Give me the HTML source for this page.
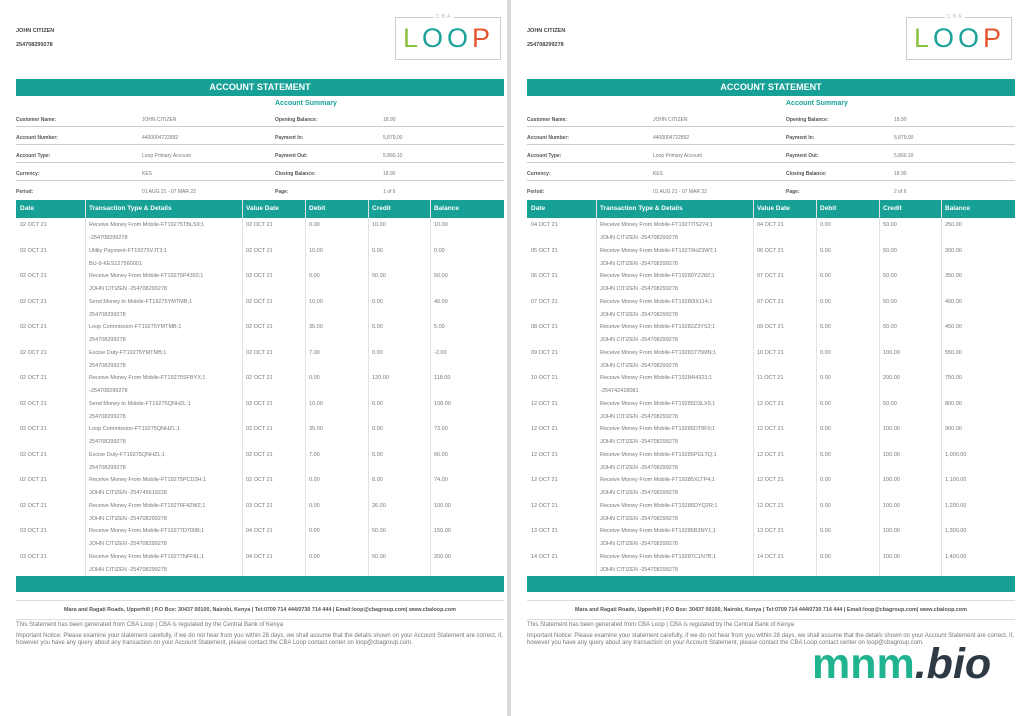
<!DOCTYPE html>
<html><head><meta charset="utf-8">
<style>
*{margin:0;padding:0;box-sizing:border-box}
body{width:1018px;height:716px;background:#fff;position:relative;overflow:hidden;font-family:"Liberation Sans",sans-serif;color:#666}
.pg{position:absolute;top:0;width:507px;height:716px;background:#fff}
.sep{position:absolute;left:507px;top:0;width:4px;height:716px;background:#d9d9d9}
.a{position:absolute;white-space:nowrap}
.t{font-size:5px;color:#777}
.r{font-size:5.5px}
.b{font-weight:bold;color:#444}
.teal{background:#16a096}
.ln{position:absolute;height:1px;background:#ccc}
.vl{position:absolute;width:1px;background:#ddd}
.logo{position:absolute;width:106px;height:43px;border:1px solid #ccc}
.mark{position:absolute;left:812px;top:640px;font-size:43px;font-weight:bold;font-style:italic;letter-spacing:0px}
</style></head><body>
<div class="sep"></div>
<div class="mark"><span style="color:#1fb38f;font-style:normal">mnm</span><span style="color:#2d3a45">.bio</span></div>
<script>
const summaryLeft=[["Customer Name:","JOHN CITIZEN"],["Account Number:","4400004722892"],["Account Type:","Loop Primary Account"],["Currency:","KES"],["Period:","01 AUG 21 - 07 MAR 22"]];
const summaryRight1=[["Opening Balance:","18.90"],["Payment In:","5,879.00"],["Payment Out:","5,860.10"],["Closing Balance:","18.90"],["Page:","1 of 6"]];
const headers=["Date","Transaction Type & Details","Value Date","Debit","Credit","Balance"];
const rows1=[
["02 OCT 21","Receive Money From Mobile-FT19275TBLS9;1","-254708299278","02 OCT 21","0.00","10.00","10.00"],
["02 OCT 21","Utility Payment-FT19275VJT3;1","BU-9-KES127560001","02 OCT 21","10.00","0.00","0.00"],
["02 OCT 21","Receive Money From Mobile-FT19275P4393;1","JOHN CITIZEN -254708299278","02 OCT 21","0.00","50.00","50.00"],
["02 OCT 21","Send Money to Mobile-FT19275YMTMB;1","254708299278","02 OCT 21","10.00","0.00","40.00"],
["02 OCT 21","Loop Commission-FT19275YMTMB;1","254708299278","02 OCT 21","35.00","0.00","5.00"],
["02 OCT 21","Excise Duty-FT19275YMTMB;1","254708299278","02 OCT 21","7.00","0.00","-2.00"],
["02 OCT 21","Receive Money From Mobile-FT19275SFBYX;1","-254708299278","02 OCT 21","0.00","120.00","118.00"],
["02 OCT 21","Send Money to Mobile-FT19275QNHZL;1","254708299278","02 OCT 21","10.00","0.00","108.00"],
["02 OCT 21","Loop Commission-FT19275QNHZL;1","254708299278","02 OCT 21","35.00","0.00","73.00"],
["02 OCT 21","Excise Duty-FT19275QNHZL;1","254708299278","02 OCT 21","7.00","0.00","66.00"],
["02 OCT 21","Receive Money From Mobile-FT19275PCD3H;1","JOHN CITIZEN -254745619228","02 OCT 21","0.00","8.00","74.00"],
["02 OCT 21","Receive Money From Mobile-FT19276F42WZ;1","JOHN CITIZEN -254708299278","03 OCT 21","0.00","26.00","100.00"],
["03 OCT 21","Receive Money From Mobile-FT19277D700B;1","JOHN CITIZEN -254708299278","04 OCT 21","0.00","50.00","150.00"],
["03 OCT 21","Receive Money From Mobile-FT19277NFF8L;1","JOHN CITIZEN -254708299278","04 OCT 21","0.00","50.00","200.00"]];
const rows2=[
["04 OCT 21","Receive Money From Mobile-FT19277IS274;1","JOHN CITIZEN -254708299278","04 OCT 21","0.00","50.00","250.00"],
["05 OCT 21","Receive Money From Mobile-FT19279HZ3WT;1","JOHN CITIZEN -254708299278","06 OCT 21","0.00","50.00","300.00"],
["06 OCT 21","Receive Money From Mobile-FT19280YZ28Z;1","JOHN CITIZEN -254708299278","07 OCT 21","0.00","50.00","350.00"],
["07 OCT 21","Receive Money From Mobile-FT19280IX114;1","JOHN CITIZEN -254708299278","07 OCT 21","0.00","50.00","400.00"],
["08 OCT 21","Receive Money From Mobile-FT19282Z3YS2;1","JOHN CITIZEN -254708299278","09 OCT 21","0.00","50.00","450.00"],
["09 OCT 21","Receive Money From Mobile-FT19283775MN;1","JOHN CITIZEN -254708299278","10 OCT 21","0.00","100.00","550.00"],
["10 OCT 21","Receive Money From Mobile-FT19284I4323;1","-254742418081","11 OCT 21","0.00","200.00","750.00"],
["12 OCT 21","Receive Money From Mobile-FT19285D3LX5;1","JOHN CITIZEN -254708299278","12 OCT 21","0.00","50.00","800.00"],
["12 OCT 21","Receive Money From Mobile-FT19285DT8F9;1","JOHN CITIZEN -254708299278","12 OCT 21","0.00","100.00","900.00"],
["12 OCT 21","Receive Money From Mobile-FT19285PGLTQ;1","JOHN CITIZEN -254708299278","12 OCT 21","0.00","100.00","1,000.00"],
["12 OCT 21","Receive Money From Mobile-FT19285XLTP4;1","JOHN CITIZEN -254708299278","12 OCT 21","0.00","100.00","1,100.00"],
["12 OCT 21","Receive Money From Mobile-FT19285DYQ2R;1","JOHN CITIZEN -254708299278","12 OCT 21","0.00","100.00","1,200.00"],
["13 OCT 21","Receive Money From Mobile-FT19286B3NY1;1","JOHN CITIZEN -254708299278","13 OCT 21","0.00","100.00","1,300.00"],
["14 OCT 21","Receive Money From Mobile-FT19287C1N7B;1","JOHN CITIZEN -254708299278","14 OCT 21","0.00","100.00","1,400.00"]];
const colX=[0,69,226,289,352,414,488];

function el(p,cls,x,y,txt,name,style){
  const d=document.createElement('div');
  d.className=cls;d.style.left=x+'px';d.style.top=y+'px';
  if(style)d.style.cssText+=style;
  if(txt!==undefined)d.textContent=txt;
  
  
  p.appendChild(d);return d;
}
function page(off,rows,pageTxt){
  const p=document.createElement('div');p.className='pg';p.style.left=off+'px';
  
  
  document.body.appendChild(p);
  const L=16;
  el(p,'a t b',L,28,'JOHN CITIZEN','customer-name-header','font-size:5.5px');
  el(p,'a t b',L,42,'254708299278','customer-phone-header','font-size:5.5px');
  const lg=el(p,'logo',395,17,undefined,'cba-loop-logo');
  el(lg,'a',38,-4,'CBA','logo-cba-text','font-size:5px;color:#bbb;background:#fff;padding:0 2px;letter-spacing:2px');
  el(lg,'a',7,5,'','logo-loop-text','font-size:27px;letter-spacing:4px;line-height:30px').innerHTML='<span style="color:#8cbf3f">L</span><span style="color:#1ba39a">OO</span><span style="color:#e4572e">P</span>';
  el(p,'a teal',L,79,'ACCOUNT STATEMENT','account-statement-title','width:488px;height:17px;color:#fff;font-weight:bold;font-size:9px;text-align:center;line-height:17px');
  el(p,'a',275,100,'Account Summary','account-summary-title','font-size:7px;font-weight:bold;color:#1ba39a');
  const ys=[117,135,153,171,189];
  for(let i=0;i<5;i++){
    el(p,'a t b',L,ys[i],summaryLeft[i][0],'summary-label','font-weight:bold;color:#555');
    el(p,'a t',142,ys[i],summaryLeft[i][1],'summary-value');
    const r=i==4?["Page:",pageTxt]:summaryRight1[i];
    el(p,'a t',275,ys[i],r[0],'summary-label','font-weight:bold;color:#555');
    el(p,'a t',383,ys[i],r[1],'summary-value');
    if(i<4){el(p,'ln',L,ys[i]+9,undefined,'summary-divider','width:488px');}
  }
  const hy=200;
  el(p,'a teal',L,hy,'','table-header-bar','width:488px;height:18px');
  for(let c=0;c<6;c++){
    el(p,'a',L+colX[c]+4,hy+5,headers[c],'column-header','font-size:6.5px;font-weight:bold;color:#fff');
    if(c>0)el(p,'vl',L+colX[c],hy,undefined,'column-divider','height:376px;background:#e2e2e2');
  }
  const rh=25.5;
  rows.forEach((r,i)=>{
    const y=hy+22+i*rh;
    el(p,'a t r',L+4,y,r[0],'row-date');
    el(p,'a t r',L+colX[1]+4,y,r[1],'row-details');
    el(p,'a t r',L+colX[1]+4,y+13,r[2],'row-details-line2');
    el(p,'a t r',L+colX[2]+4,y,r[3],'row-value-date');
    el(p,'a t r',L+colX[3]+4,y,r[4],'row-debit');
    el(p,'a t r',L+colX[4]+4,y,r[5],'row-credit');
    el(p,'a t r',L+colX[5]+4,y,r[6],'row-balance');
  });
  el(p,'a teal',L,576,'','table-footer-bar','width:488px;height:16px');
  el(p,'ln',L,600,undefined,'footer-divider','width:488px;background:#ddd');
  el(p,'a t b',L,607,'Mara and Ragati Roads, Upperhill | P.O Box: 30437 00100, Nairobi, Kenya | Tel:0709 714 444/0730 714 444 | Email:loop@cbagroup.com| www.cbaloop.com','footer-address','width:488px;text-align:center;font-size:5.4px;color:#555');
  el(p,'ln',L,619,undefined,'footer-divider','width:488px;background:#ddd');
  el(p,'a t',L,622,'This Statement has been generated from CBA Loop | CBA is regulated by the Central Bank of Kenya','regulation-note','font-size:6px');
  el(p,'a t',L,633,'Important Notice: Please examine your statement carefully, if we do not hear from you within 28 days, we shall assume that the details shown on your Account Statement are correct, if,','important-notice','font-size:6px');
  el(p,'a t',L,640,'however you have any query about any transaction on your Account Statement, please contact the CBA Loop contact center on loop@cbagroup.com.','important-notice-2','font-size:6px');
}
page(0,rows1,"1 of 6");
page(511,rows2,"2 of 6");
document.body.appendChild(document.querySelector('.mark'));
</script>
</body></html>
